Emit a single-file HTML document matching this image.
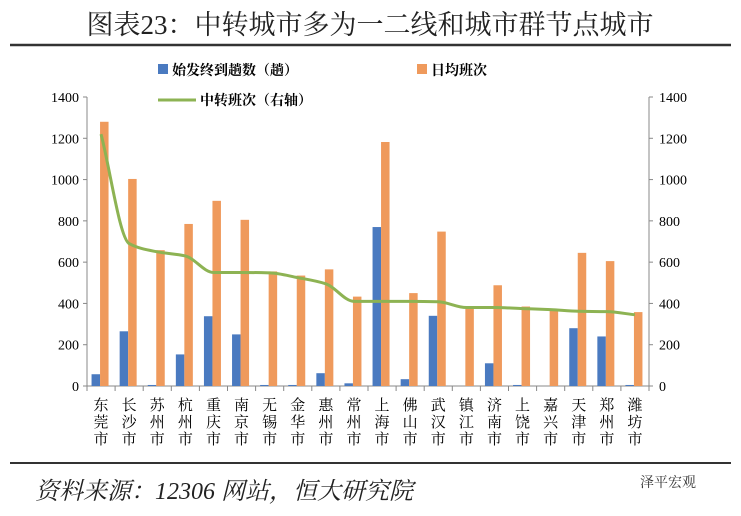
<!DOCTYPE html>
<html><head><meta charset="utf-8"><style>
body{margin:0;background:#fff;width:741px;height:511px;overflow:hidden;font-family:"Liberation Serif","Noto Serif CJK SC",serif}
svg text{font-family:"Liberation Serif","Noto Serif CJK SC",serif}
</style></head><body>
<svg width="741" height="511">
<text x="370" y="34" text-anchor="middle" font-size="27" fill="#222">图表23：中转城市多为一二线和城市群节点城市</text>
<line x1="10" y1="45" x2="731" y2="45" stroke="#333" stroke-width="2.5"/>
<line x1="10" y1="463" x2="731" y2="463" stroke="#333" stroke-width="2"/>
<text x="35" y="499" font-size="24" font-style="italic" fill="#222">资料来源：12306 网站，恒大研究院</text>
<text x="640" y="487" font-size="14" fill="#333">泽平宏观</text>
<g>
<rect x="158" y="64" width="10" height="10" fill="#4a7ac0"/>
<text x="172" y="75" font-size="14" font-weight="bold">始发终到趟数（趟）</text>
<rect x="417" y="64" width="10" height="10" fill="#ef9a5c"/>
<text x="431" y="75" font-size="14" font-weight="bold">日均班次</text>
<line x1="158" y1="100" x2="196" y2="100" stroke="#8db353" stroke-width="3"/>
<text x="200" y="105" font-size="14" font-weight="bold">中转班次（右轴）</text>
</g>
<g id="plot"></g>
</svg>
<script>
const categories=["东莞市","长沙市","苏州市","杭州市","重庆市","南京市","无锡市","金华市","惠州市","常州市","上海市","佛山市","武汉市","镇江市","济南市","上饶市","嘉兴市","天津市","郑州市","潍坊市"];
const tripsValues=[57,265,5,153,338,250,5,5,62,13,770,33,340,0,110,5,0,280,240,5];
const dailyValues=[1280,1003,658,785,897,805,555,535,565,433,1182,450,748,380,488,385,370,645,605,358];
const transferValues=[1220,690,650,630,550,550,548,525,495,410,410,410,408,380,380,375,370,362,360,345];
const yTicks=[0,200,400,600,800,1000,1200,1400];

const NS="http://www.w3.org/2000/svg";
const g=document.getElementById('plot');
const X0=87,X1=649,Y0=386,Y1=97,MAX=1400;
const step=(X1-X0)/categories.length;
const y=v=>Y0-(v/MAX)*(Y0-Y1);
const xc=i=>X0+step*(i+0.5);
function mk(t,a){const e=document.createElementNS(NS,t);for(const k in a)e.setAttribute(k,a[k]);g.appendChild(e);return e;}
let e;
e=mk('line',{x1:X0,y1:Y1,x2:X0,y2:Y0,stroke:'#888'});


e=mk('line',{x1:X1,y1:Y1,x2:X1,y2:Y0,stroke:'#888'});


e=mk('line',{x1:X0,y1:Y0,x2:X1,y2:Y0,stroke:'#888'});


yTicks.forEach(v=>{
 mk('line',{x1:X0-4,y1:y(v),x2:X0,y2:y(v),stroke:'#888'});
 mk('line',{x1:X1,y1:y(v),x2:X1+4,y2:y(v),stroke:'#888'});
 e=mk('text',{x:X0-8,y:y(v)+5,'text-anchor':'end','font-size':14});
 e.textContent=v;
 
 
 e=mk('text',{x:X1+10,y:y(v)+5,'font-size':14});
 e.textContent=v;
 
 
});
categories.forEach((c,i)=>{
 const tx=X0+step*(i+1);
 mk('line',{x1:tx,y1:Y0,x2:tx,y2:Y0+5,stroke:'#888'});
 if(i==0)mk('line',{x1:X0,y1:Y0,x2:X0,y2:Y0+5,stroke:'#888'});
 const cx=xc(i);
 e=mk('rect',{x:cx-9.5,y:y(tripsValues[i]),width:8.5,height:Y0-y(tripsValues[i]),fill:'#4a7ac0'});
 
 
 e=mk('rect',{x:cx-1,y:y(dailyValues[i]),width:8.5,height:Y0-y(dailyValues[i]),fill:'#ef9a5c'});
 
 
 [...c].forEach((ch,k)=>{
  e=mk('text',{x:cx,y:Y0+24+k*17,'text-anchor':'middle','font-size':15});
  e.textContent=ch;
  
  
 });
});
// monotone cubic interpolation
const pts=transferValues.map((v,i)=>[xc(i),y(v)]);
const n=pts.length;
const dl=[];for(let i=0;i<n-1;i++)dl.push((pts[i+1][1]-pts[i][1])/step);
const m=[];
for(let i=0;i<n;i++){
 if(i==0)m.push(dl[0]);else if(i==n-1)m.push(dl[n-2]);
 else m.push(dl[i-1]*dl[i]<=0?0:2/(1/dl[i-1]+1/dl[i]));
}
let d='M'+pts[0][0]+','+pts[0][1];
for(let i=0;i<n-1;i++){
 const h=step/3;
 d+=` C${pts[i][0]+h},${pts[i][1]+m[i]*h} ${pts[i+1][0]-h},${pts[i+1][1]-m[i+1]*h} ${pts[i+1][0]},${pts[i+1][1]}`;
}
e=mk('path',{d:d,fill:'none',stroke:'#8db353','stroke-width':3});


</script>
</body></html>
